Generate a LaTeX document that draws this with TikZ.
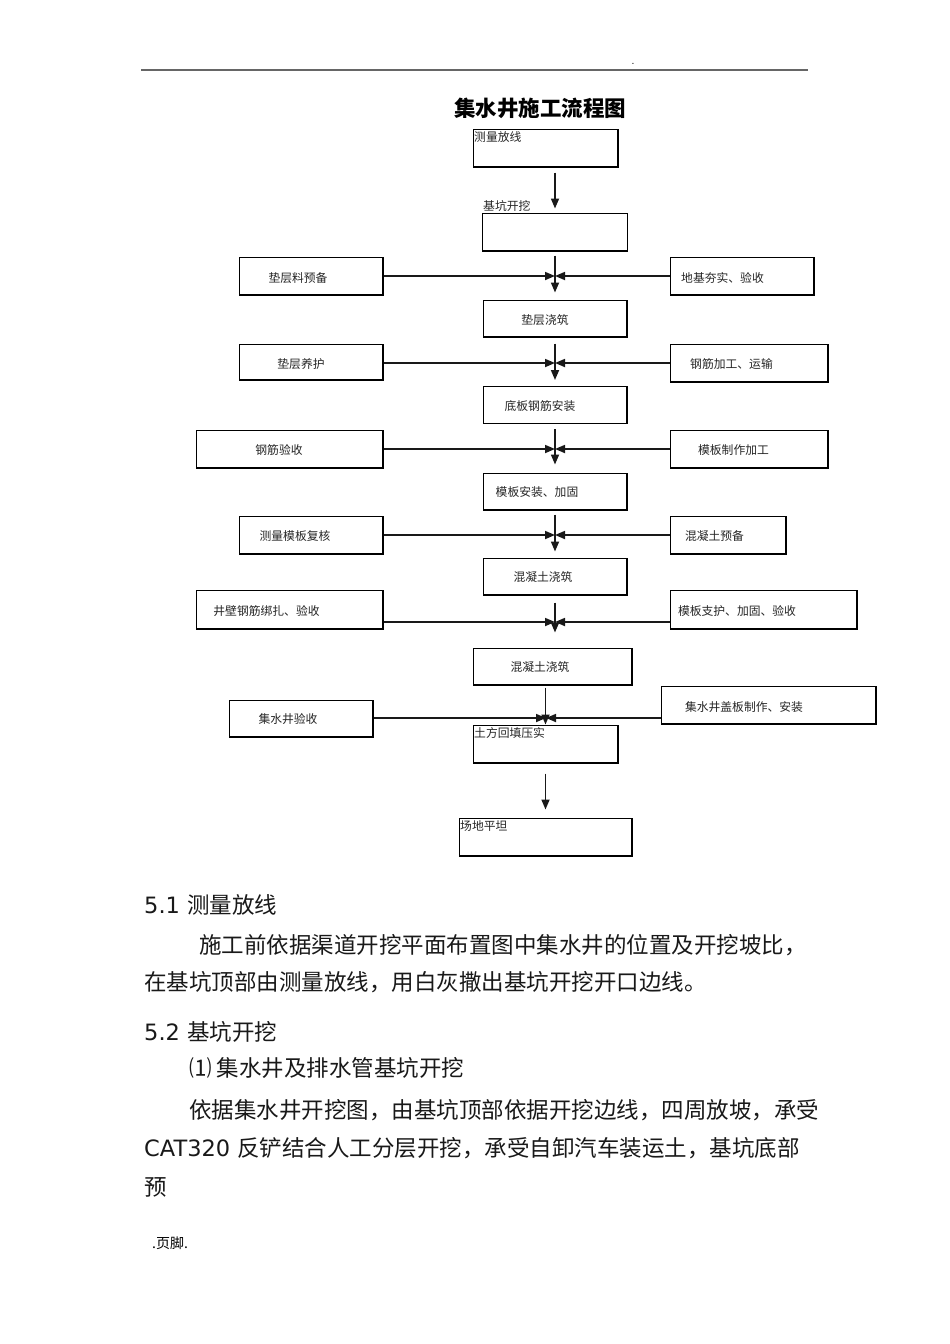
\documentclass[tikz,border=0pt]{standalone}
\usepackage{fontspec}
\newfontfamily\cjk{Noto Sans CJK SC}
\newfontfamily\dejavu{DejaVu Sans}
\usetikzlibrary{arrows.meta}
\tikzset{box/.style={draw=black, line width=1pt, rectangle, inner sep=0pt, path picture={
    \draw[black, line width=2pt] (path picture bounding box.north east) -- (path picture bounding box.south east) -- (path picture bounding box.south west);
}}}
\tikzset{tag/.style={font=\cjk\fontsize{11.8}{11.8}\selectfont, text=black!85, inner sep=1.5pt}}
\tikzset{flow/.style={-{Triangle[length=10pt,width=8pt]}, line width=1.7pt, black!90}}
\tikzset{para/.style={anchor=west, inner sep=0pt, text=black!90, font=\cjk\fontsize{22.5}{22.5}\selectfont, text height=19.8pt, text depth=2.7pt}}

\begin{document}
\begin{tikzpicture}[x=1pt, y=-1pt]
            \useasboundingbox (0,0) rectangle (950,1344);
            \fill[white] (0,0) rectangle (950,1344);

            % page header
            \draw[line width=1.8pt, black!60] (141,70) -- (808,70);
            \node[font=\dejavu\fontsize{9}{9}\selectfont, inner sep=0pt] (hdot) at (633,64) {.};
            \node[font=\cjk\bfseries\fontsize{21.5}{21.5}\selectfont, inner sep=0pt] (title) at (540,108) {集水井施工流程图};

            % main column
            \node[box, minimum width=145pt, minimum height=38pt] (survey) at (545.5,148) {};
            \node[tag, anchor=north west, inner ysep=2.5pt] (survey-t) at (survey.north west) {测量放线};
            \node[box, minimum width=145pt, minimum height=38pt] (pit) at (555,232) {};
            \node[tag, anchor=south west, inner sep=1pt] (pit-t) at (pit.north west) {基坑开挖};
            \node[box, minimum width=144pt, minimum height=37pt] (pad) at (555,318.5) {};
            \node[tag] (pad-t) at (545,320) {垫层浇筑};
            \node[box, minimum width=144pt, minimum height=37pt] (baserebar) at (555,405) {};
            \node[tag] (baserebar-t) at (540,406) {底板钢筋安装};
            \node[box, minimum width=144pt, minimum height=37pt] (formwork) at (555,491.5) {};
            \node[tag] (formwork-t) at (537,492) {模板安装、加固};
            \node[box, minimum width=144pt, minimum height=37pt] (pour) at (555,576.5) {};
            \node[tag] (pour-t) at (543,577) {混凝土浇筑};
            \node[box, minimum width=159pt, minimum height=37pt] (pour2) at (552.5,666.5) {};
            \node[tag] (pour2-t) at (540,667) {混凝土浇筑};
            \node[box, minimum width=145pt, minimum height=38pt] (backfill) at (545.5,744) {};
            \node[tag, anchor=north west, inner ysep=2.5pt] (backfill-t) at (backfill.north west) {土方回填压实};
            \node[box, minimum width=173pt, minimum height=38pt] (level) at (545.5,837) {};
            \node[tag, anchor=north west, inner ysep=2.5pt] (level-t) at (level.north west) {场地平坦};

            % left column
            \node[box, minimum width=144pt, minimum height=38pt] (padmat) at (311,276) {};
            \node[tag] (padmat-t) at (298,278) {垫层料预备};
            \node[box, minimum width=144pt, minimum height=36pt] (padcure) at (311,362) {};
            \node[tag] (padcure-t) at (301,364) {垫层养护};
            \node[box, minimum width=187pt, minimum height=38pt] (rebarchk) at (289.5,449) {};
            \node[tag] (rebarchk-t) at (279,450) {钢筋验收};
            \node[box, minimum width=144pt, minimum height=38pt] (formchk) at (311,535) {};
            \node[tag] (formchk-t) at (295,536) {测量模板复核};
            \node[box, minimum width=187pt, minimum height=39pt] (wallrebar) at (289.5,609.5) {};
            \node[tag] (wallrebar-t) at (266.5,611) {井壁钢筋绑扎、验收};
            \node[box, minimum width=144pt, minimum height=37pt] (pitchk) at (301,718.5) {};
            \node[tag] (pitchk-t) at (288,719) {集水井验收};

            % right column
            \node[box, minimum width=144pt, minimum height=38pt] (soil) at (742,276) {};
            \node[tag] (soil-t) at (722.5,278) {地基夯实、验收};
            \node[box, minimum width=158pt, minimum height=38pt] (rebarfab) at (749,363) {};
            \node[tag] (rebarfab-t) at (731.5,364) {钢筋加工、运输};
            \node[box, minimum width=158pt, minimum height=38pt] (formfab) at (749,449) {};
            \node[tag] (formfab-t) at (733.5,450) {模板制作加工};
            \node[box, minimum width=116pt, minimum height=38pt] (concprep) at (728,535) {};
            \node[tag] (concprep-t) at (714.5,536) {混凝土预备};
            \node[box, minimum width=187pt, minimum height=39pt] (formsup) at (763.5,609.5) {};
            \node[tag] (formsup-t) at (737,611) {模板支护、加固、验收};
            \node[box, minimum width=215pt, minimum height=38pt] (cover) at (768.5,705) {};
            \node[tag] (cover-t) at (744,707) {集水井盖板制作、安装};

            % junctions
            \coordinate (j1) at (555,276);
            \coordinate (j2) at (555,363);
            \coordinate (j3) at (555,449);
            \coordinate (j4) at (555,535);
            \coordinate (j5) at (555,622);
            \coordinate (j6) at (546,718);

            \draw[flow, shorten <=5pt, shorten >=4pt] (survey.south -| pit.north) -- (pit.north);
            \draw[flow, shorten <=4pt, shorten >=7pt] (pit.south) -- (pad.north);
            \draw[flow, shorten <=6pt, shorten >=6pt] (pad.south) -- (baserebar.north);
            \draw[flow, shorten <=5pt, shorten >=8pt] (baserebar.south) -- (formwork.north);
            \draw[flow, shorten <=4pt, shorten >=6pt] (formwork.south) -- (pour.north);
            \draw[flow, shorten <=7pt, shorten >=15pt] (pour.south) -- (pour.south |- pour2.north);
            \draw[flow, shorten <=2pt] (pour2.south -| backfill.north) -- (backfill.north);
            \draw[flow, shorten <=10pt, shorten >=8pt] (backfill.south) -- (level.north);

            \draw[flow] (padmat.east |- j1) -- (j1);
            \draw[flow] (soil.west |- j1) -- (j1);
            \draw[flow] (padcure.east |- j2) -- (j2);
            \draw[flow] (rebarfab.west |- j2) -- (j2);
            \draw[flow] (rebarchk.east |- j3) -- (j3);
            \draw[flow] (formfab.west |- j3) -- (j3);
            \draw[flow] (formchk.east |- j4) -- (j4);
            \draw[flow] (concprep.west |- j4) -- (j4);
            \draw[flow] (wallrebar.east |- j5) -- (j5);
            \draw[flow] (formsup.west |- j5) -- (j5);
            \draw[flow] (pitchk.east |- j6) -- (j6);
            \draw[flow] (cover.west |- j6) -- (j6);

            % text below
            \node[para] (p1) at (144,905) {{\dejavu 5.1 }测量放线};
            \node[para] (p2) at (199,945) {施工前依据渠道开挖平面布置图中集水井的位置及开挖坡比，};
            \node[para] (p3) at (144,982) {在基坑顶部由测量放线，用白灰撒出基坑开挖开口边线。};
            \node[para] (p4) at (144,1032) {{\dejavu 5.2 }基坑开挖};
            \node[para] (p5) at (189,1068) {⑴ 集水井及排水管基坑开挖};
            \node[para] (p6) at (189,1110) {依据集水井开挖图，由基坑顶部依据开挖边线，四周放坡，承受};
            \node[para] (p7) at (144,1148) {{\dejavu CAT320 }反铲结合人工分层开挖，承受自卸汽车装运土，基坑底部};
            \node[para] (p8) at (144,1187) {预};

            \node[anchor=west, inner sep=0pt, font=\cjk\fontsize{14}{14}\selectfont, text height=12.3pt, text depth=1.7pt] (foot) at (152,1243) {.页脚.};
\end{tikzpicture}
\end{document}
